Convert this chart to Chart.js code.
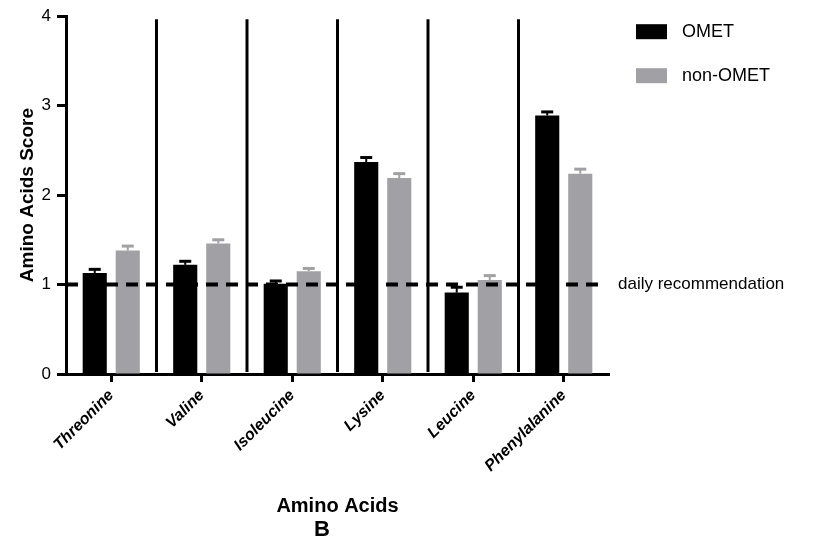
<!DOCTYPE html>
<html>
<head>
<meta charset="utf-8">
<script src="https://cdn.jsdelivr.net/npm/chart.js@4.4.1/dist/chart.umd.min.js"></script>
<style>
  html, body { margin: 0; padding: 0; background: #fff; }
  #wrap { width: 816px; height: 558px; }
</style>
</head>
<body>
<div id="wrap"><canvas id="aaChart" width="816" height="558"></canvas></div>
<script>
const categories = ["Threonine", "Valine", "Isoleucine", "Lysine", "Leucine", "Phenylalanine"];
const omet = [1.13, 1.22, 1.01, 2.37, 0.91, 2.89];
const ometErr = [0.04, 0.04, 0.03, 0.05, 0.06, 0.04];
const nonOmet = [1.38, 1.46, 1.15, 2.19, 1.05, 2.24];
const nonOmetErr = [0.05, 0.04, 0.03, 0.05, 0.05, 0.05];
const yTicks = [0, 1, 2, 3, 4];
const dailyRec = 1;

const FONT = "'Liberation Sans', Arial, sans-serif";
const GREY = "#a1a1a5";

// error bars (upper only), separators between groups, dashed line + label, legend
const extras = {
  id: "extras",
  afterDatasetsDraw(chart) {
    const { ctx, chartArea: area, scales: { x, y } } = chart;
    const errs = [ometErr, nonOmetErr];
    ctx.save();
    chart.data.datasets.forEach((ds, di) => {
      const meta = chart.getDatasetMeta(di);
      ctx.strokeStyle = ds.backgroundColor;
      meta.data.forEach((bar, i) => {
        const top = y.getPixelForValue(ds.data[i] + errs[di][i]);
        ctx.lineWidth = 2;
        ctx.beginPath();
        ctx.moveTo(bar.x, bar.y);
        ctx.lineTo(bar.x, top);
        ctx.stroke();
        ctx.lineWidth = 3;
        ctx.beginPath();
        ctx.moveTo(bar.x - 6, top);
        ctx.lineTo(bar.x + 6, top);
        ctx.stroke();
      });
    });

    // vertical separators between categories
    ctx.strokeStyle = "#000";
    ctx.lineWidth = 3;
    for (let i = 0; i < categories.length - 1; i++) {
      const sx = (x.getPixelForValue(i) + x.getPixelForValue(i + 1)) / 2;
      ctx.beginPath();
      ctx.moveTo(sx, area.top + 3);
      ctx.lineTo(sx, area.bottom - 2);
      ctx.stroke();
    }

    // daily recommendation line
    const ry = y.getPixelForValue(dailyRec);
    ctx.lineWidth = 4;
    ctx.setLineDash([12, 8]);
    ctx.beginPath();
    ctx.moveTo(area.left, ry);
    ctx.lineTo(area.right - 3, ry);
    ctx.stroke();
    ctx.setLineDash([]);
    ctx.fillStyle = "#000";
    ctx.font = "17px " + FONT;
    ctx.textBaseline = "middle";
    ctx.textAlign = "left";
    ctx.fillText("daily recommendation", area.right + 9, ry);

    // legend
    chart.data.datasets.forEach((ds, di) => {
      const ly = area.top + 16 + di * 44;
      ctx.fillStyle = ds.backgroundColor;
      ctx.fillRect(area.right + 27, ly - 8, 31, 15);
      ctx.fillStyle = "#000";
      ctx.font = "18px " + FONT;
      ctx.fillText(ds.label, area.right + 73, ly);
    });
    ctx.restore();
  }
};

new Chart(document.getElementById("aaChart"), {
  type: "bar",
  data: {
    labels: categories,
    datasets: [
      { label: "OMET", data: omet, backgroundColor: "#000000" },
      { label: "non-OMET", data: nonOmet, backgroundColor: GREY }
    ]
  },
  options: {
    responsive: false,
    animation: false,
    events: [],
    categoryPercentage: 0.73,
    barPercentage: 0.73,
    layout: { padding: { top: 15, right: 172, left: 0, bottom: 0 } },
    plugins: {
      legend: { display: false },
      tooltip: { enabled: false },
      title: {
        display: true,
        position: "bottom",
        text: "B",
        color: "#000",
        font: { family: FONT, size: 22, weight: "bold" },
        padding: { top: 0, bottom: 15 }
      }
    },
    scales: {
      x: {
        afterFit: s => { s.height = 142.6; },
        border: { display: true, color: "#000", width: 3 },
        grid: { display: true, offset: false, drawOnChartArea: false, drawTicks: true, tickLength: 8, tickWidth: 3, tickColor: "#000" },
        ticks: {
          color: "#000",
          minRotation: 45,
          maxRotation: 45,
          padding: 4,
          font: { family: FONT, size: 16, weight: "bold", style: "italic" }
        },
        title: {
          display: true,
          text: "Amino Acids",
          color: "#000",
          font: { family: FONT, size: 20, weight: "bold" },
          padding: { top: 0, bottom: -2 }
        }
      },
      y: {
        min: 0,
        max: 4,
        afterFit: s => { s.width = 66; },
        afterBuildTicks: s => { s.ticks = yTicks.map(v => ({ value: v })); },
        border: { display: true, color: "#000", width: 3 },
        grid: { display: true, drawOnChartArea: false, drawTicks: true, tickLength: 9, tickWidth: 3, tickColor: "#000" },
        ticks: {
          color: "#000",
          padding: 6,
          font: { family: FONT, size: 17 }
        },
        title: {
          display: true,
          text: "Amino Acids Score",
          color: "#000",
          font: { family: FONT, size: 19, weight: "bold" },
          padding: { top: 16, bottom: 0 }
        }
      },
      // empty axis on the right that only reserves room for the legend column
      spacer: {
        type: "linear",
        position: "right",
        display: true,
        afterFit: s => { s.width = 35; },
        border: { display: false },
        grid: { display: false },
        ticks: { display: false }
      }
    }
  },
  plugins: [extras]
});
</script>
</body>
</html>
